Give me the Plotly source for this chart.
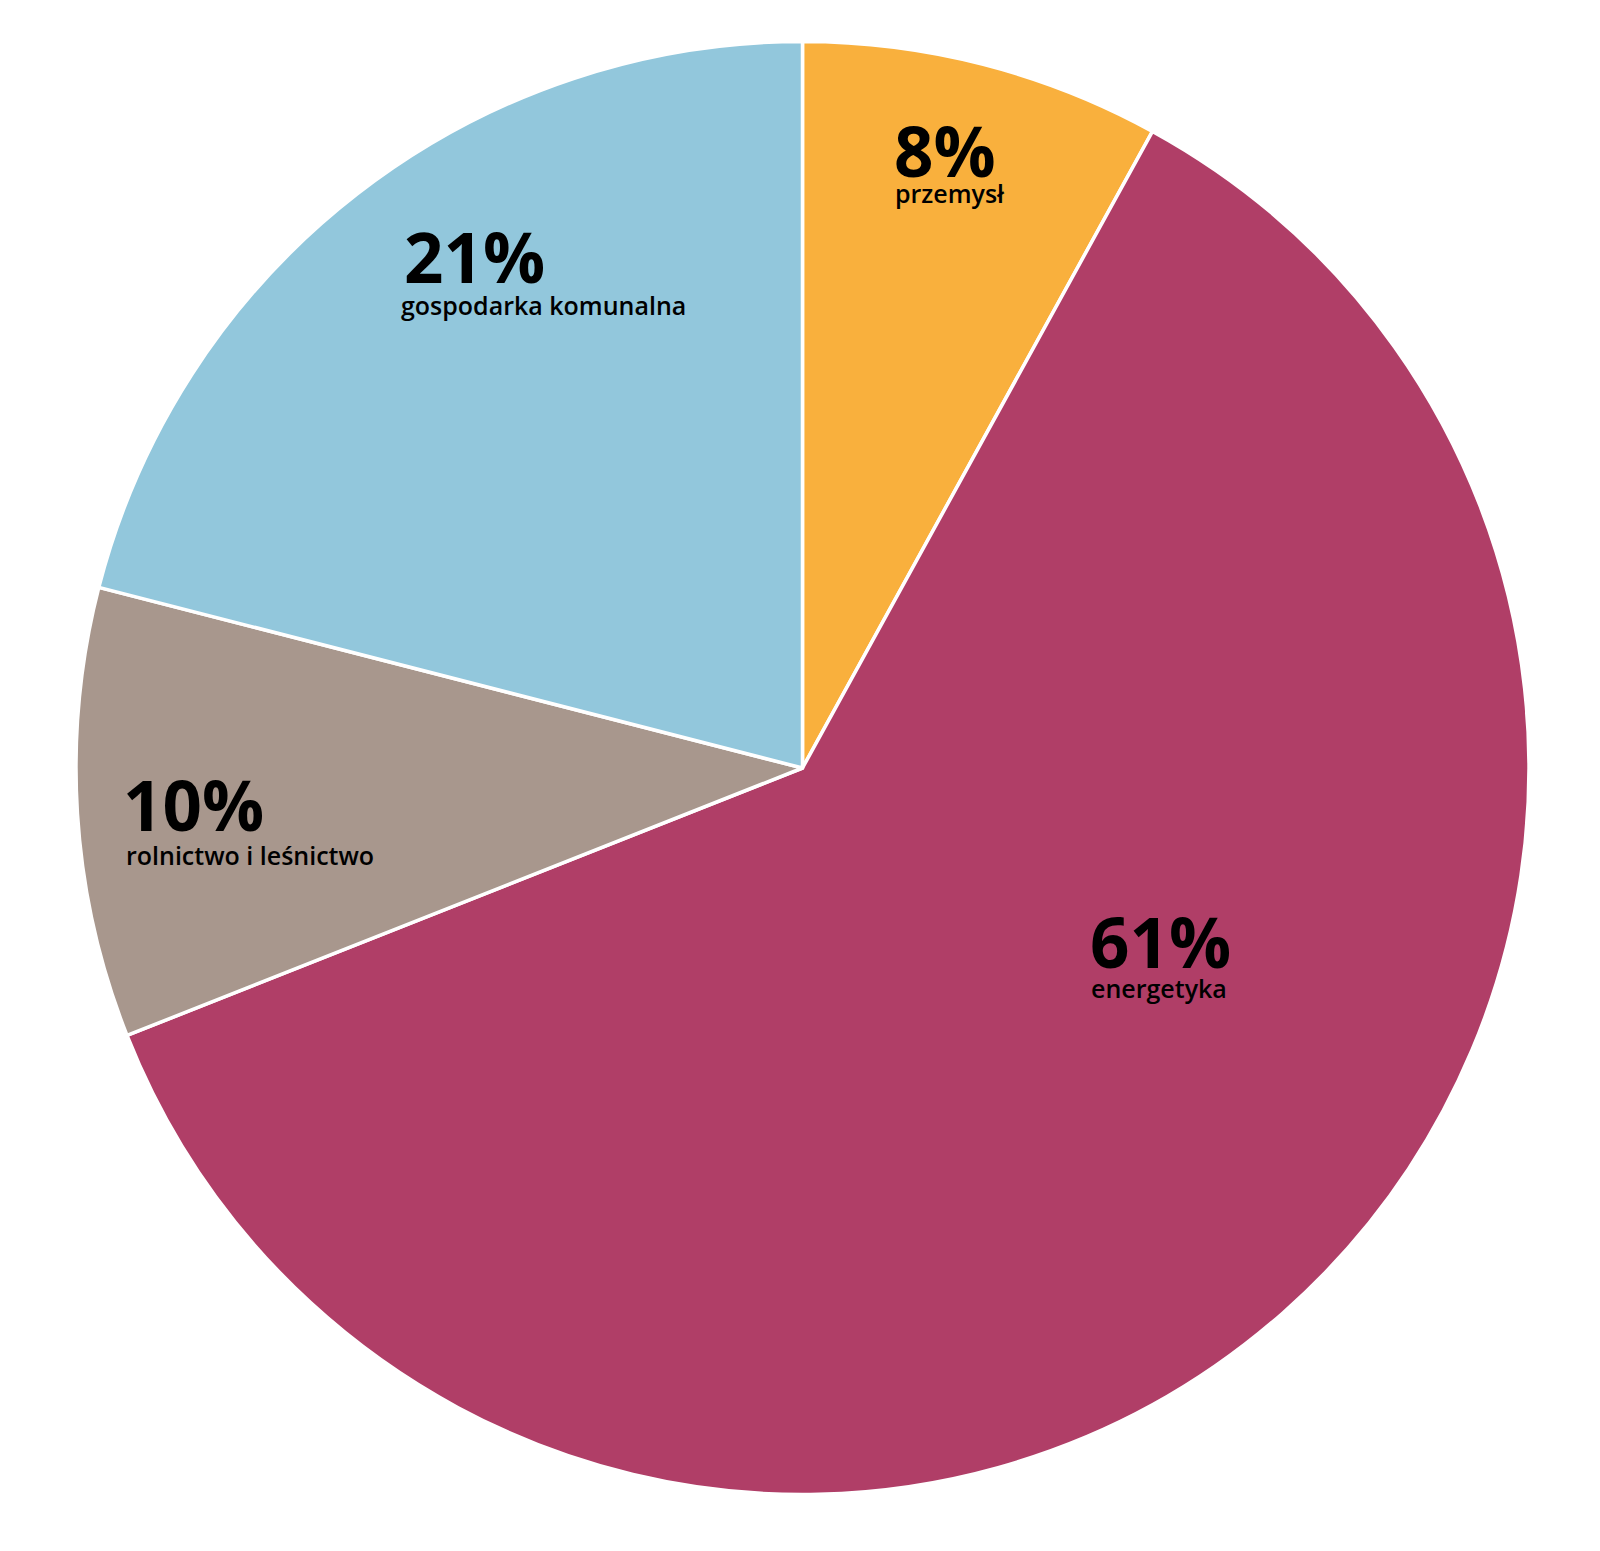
import plotly.graph_objects as go

categories = ["przemysł", "energetyka", "rolnictwo i leśnictwo", "gospodarka komunalna"]
values = [8, 61, 10, 21]
colors = ["#F9B03D", "#B03E67", "#A8978D", "#92C7DC"]

# page has an 8px body margin; figure sized to fit inside it
OFF = 8
W, H = 1600 - 2 * OFF, 1551 - 2 * OFF
cx, cy, r = 802.5 - OFF, 768 - OFF, 726.5

fig = go.Figure(go.Pie(
    labels=categories,
    values=values,
    sort=False,
    direction="clockwise",
    rotation=0,
    marker=dict(colors=colors, line=dict(color="white", width=3.5)),
    textinfo="none",
    hoverinfo="label+percent",
    domain=dict(x=[(cx - r) / W, (cx + r) / W], y=[1 - (cy + r) / H, 1 - (cy - r) / H]),
    showlegend=False,
))

# label layout positions (page pixels): (left x, percent center y, label center y)
label_pos = [(892, 150, 193), (1088, 941, 988), (121, 804, 855), (402, 256, 305)]
sub_pos_dx = [1, 1, 3, -3]

for cat, val, (lx, py, ly), dx in zip(categories, values, label_pos, sub_pos_dx):
    fig.add_annotation(
        x=(lx - OFF) / W, y=1 - (py - OFF) / H, xref="paper", yref="paper",
        xanchor="left", yanchor="middle", showarrow=False,
        text=f"{val}%",
        font=dict(family="Open Sans", size=69, color="black", weight=700),
    )
    fig.add_annotation(
        x=(lx + dx - OFF) / W, y=1 - (ly - OFF) / H, xref="paper", yref="paper",
        xanchor="left", yanchor="middle", showarrow=False,
        text=cat,
        font=dict(family="Open Sans", size=25, color="black", weight=600),
    )

fig.update_layout(
    width=W, height=H,
    margin=dict(l=0, r=0, t=0, b=0),
    paper_bgcolor="white", plot_bgcolor="white",
)

fig.write_html("out.html")
